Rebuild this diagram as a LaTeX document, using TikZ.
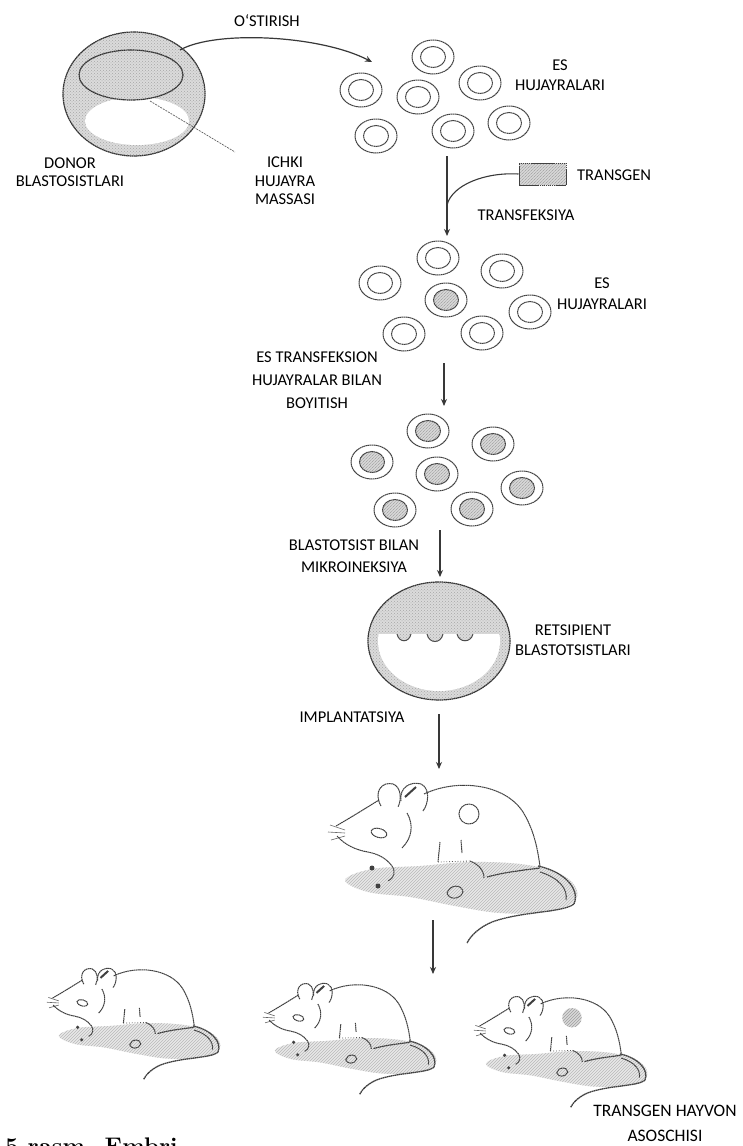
\documentclass[tikz,border=0pt]{standalone}
\usepackage{fontspec}
\newfontfamily\labfont{Carlito}
\usetikzlibrary{arrows.meta,patterns}

\tikzset{
  ink/.style={draw=black!75, line width=1pt, dash pattern=on 1.6pt off 0.45pt},
  rim/.style={draw=black!80, line width=1.2pt, dash pattern=on 1.6pt off 0.45pt},
  texture/.style={preaction={fill=gray!28}, pattern=crosshatch dots, pattern color=gray!70},
  hatchfill/.style={preaction={fill=gray!30}, pattern=north east lines, pattern color=gray!75},
  groundfill/.style={preaction={fill=gray!18}, pattern=north east lines, pattern color=gray!55},
  flow/.style={draw=black!78, line width=1.2pt, -{Stealth[length=7pt,width=6pt]}},
  leader/.style={draw=black!60, line width=0.7pt, dash pattern=on 2pt off 1pt},
  lbl/.style={font=\labfont\fontsize{16.5}{#1}\selectfont, text=black,
              inner sep=0pt, align=center},
  lbl/.default=18,
  escell/.pic={
    \draw[ink] (0,0) ellipse [x radius=21pt, y radius=17pt];
    \draw[ink] (0,0) ellipse [x radius=12.5pt, y radius=10.5pt];},
  escellfull/.pic={
    \draw[ink] (0,0) ellipse [x radius=21pt, y radius=17pt];
    \draw[ink, hatchfill] (0,0) ellipse [x radius=12.5pt, y radius=10.5pt];},
}

% a sitting mouse; #1 = style of the back spot, #2 = its radius
\newcommand\drawmouse[2]{%
  % ground shadow
  \path[groundfill] plot[smooth cycle, tension=0.6] coordinates
    {(345,880) (372,869) (420,866) (470,862) (520,864) (556,872) (575,886)
     (574,902) (545,912) (500,913) (455,906) (410,897) (368,892)};
  % tail
  \draw[ink, line width=1.3pt] (538,866) .. controls (566,872) and (580,890) .. (574,904)
     .. controls (562,913) and (522,911) .. (492,922)
     .. controls (480,927) and (471,935) .. (467,943);
  \draw[ink] (540,872) .. controls (560,878) and (568,890) .. (566,900);
  % head and back
  \draw[ink] (336,826) .. controls (350,818) and (366,808) .. (379,800);
  \draw[ink] (424,794) .. controls (458,778) and (505,784) .. (523,812)
     .. controls (534,830) and (538,850) .. (540,867);
  % ears
  \draw[ink] (381,806) .. controls (373,792) and (382,781) .. (393,784)
     .. controls (401,787) and (402,799) .. (398,807);
  \draw[ink] (401,801) .. controls (399,787) and (411,781) .. (421,784)
     .. controls (430,788) and (429,803) .. (423,811);
  \draw[black!75, line width=2pt] (405,797) -- (416,787);
  % eye
  \draw[ink, rotate around={-15:(379,833)}] (379,833) ellipse [x radius=8pt, y radius=4.5pt];
  % whiskers
  \draw[black!60, line width=0.6pt] (330,825) -- (345,830) (328,832) -- (345,833) (331,840) -- (345,836);
  % snout, mouth and front leg
  \draw[ink] (337,836) .. controls (345,845) and (356,850) .. (368,852)
     .. controls (378,854) and (386,858) .. (392,866)
     .. controls (396,872) and (394,878) .. (388,881);
  \draw[ink] (407,813) .. controls (414,825) and (412,838) .. (402,848);
  \fill[black!75] (372,868) circle (2.5pt);
  \fill[black!75] (378,886) circle (2.5pt);
  % chest, belly and hind leg
  \draw[ink] (440,842) -- (438,862);
  \draw[ink] (461,840) -- (462,853);
  \draw[black!65, line width=0.8pt, dotted] (438,862) -- (470,861);
  \draw[ink] (470,861) .. controls (478,864) and (484,870) .. (484,878);
  \draw[ink, line width=1.2pt] (487,877) .. controls (505,872) and (525,870) .. (540,868);
  \draw[ink] (447,893) .. controls (450,884) and (462,884) .. (463,892)
     .. controls (460,900) and (449,900) .. (447,893);
  % spot on the back
  \path[#1] (469,814) circle (#2);
}

\begin{document}
\begin{tikzpicture}[x=1pt, y=-1pt]
\useasboundingbox (0,0) rectangle (742,1146);
\fill[white] (0,0) rectangle (742,1146);

% ---------- donor blastocyst ----------
\path[texture] (134,94) ellipse [x radius=71pt, y radius=62pt];
\draw[rim] (134,94) ellipse [x radius=71pt, y radius=62pt];
\fill[white] (137,121) ellipse [x radius=52pt, y radius=24pt];
\path[texture] (131,75) ellipse [x radius=52pt, y radius=25pt];
\draw[rim] (131,75) ellipse [x radius=52pt, y radius=25pt];
\coordinate (icmfoot) at (150,101);
\coordinate (leaderend) at (235,152);
\draw[leader] (icmfoot) -- (leaderend);

\node[lbl] (donor) at (70,172) {DONOR\\BLASTOSISTLARI};
\node[lbl=18.5] (ichki) at (285,181) {ICHKI\\HUJAYRA\\MASSASI};
\node[lbl] (ostirish) at (267,21) {O‘STIRISH};

\coordinate (donortop) at (180,50);
\coordinate (esin) at (372,62);
\draw[flow] (donortop) .. controls (215,30) and (320,35) .. (esin);

% ---------- ES cells ----------
\foreach \p in {(433,57),(361,90),(418,97),(480,83),(376,136),(453,131),(509,123)}
  \pic at \p {escell};
\node[lbl=20] (es1) at (560,75) {ES\\HUJAYRALARI};

\coordinate (a1s) at (447,156);
\coordinate (a1e) at (447,236);
\coordinate (a1j) at (447,205);
\draw[flow] (a1s) -- (a1e);

\node[draw=black!75, line width=1pt, dash pattern=on 1.6pt off 0.45pt, hatchfill,
      minimum width=47pt, minimum height=22pt, inner sep=0pt] (tgbox) at (542.5,174) {};
\node[lbl, anchor=west] (transgen) at (577,175) {TRANSGEN};
\draw[draw=black!78, line width=1.1pt] (tgbox.west) .. controls (485,172) and (452,185) .. (a1j);
\node[lbl] (transfeksiya) at (526,215) {TRANSFEKSIYA};

% ---------- transfected cells ----------
\foreach \p in {(438,258),(380,283),(502,271),(530,312),(404,334),(482,333)}
  \pic at \p {escell};
\pic at (446,300) {escellfull};
\node[lbl=21] (es2) at (602,293.5) {ES\\HUJAYRALARI};

\node[lbl=23] (boyitish) at (317,380) {ES TRANSFEKSION\\HUJAYRALAR BILAN\\BOYITISH};
\coordinate (a2s) at (444,363);
\coordinate (a2e) at (444,406);
\draw[flow] (a2s) -- (a2e);

% ---------- enriched cells ----------
\foreach \p in {(428,431),(493,444),(372,462),(437,474),(522,488),(395,510),(472,509)}
  \pic at \p {escellfull};

\node[lbl=22] (mikro) at (354,556) {BLASTOTSIST BILAN\\MIKROINEKSIYA};
\coordinate (a3s) at (440,530);
\coordinate (a3e) at (440,577);
\draw[flow] (a3s) -- (a3e);

% ---------- recipient blastocyst ----------
\path[texture] (439,641) ellipse [x radius=71pt, y radius=59pt];
\begin{scope}
  \clip (439,641) ellipse [x radius=61pt, y radius=50pt];
  \fill[white] (370,634) -- (397,634) .. controls (399,643) and (409,643) .. (411,634)
     -- (427,634) .. controls (429,644) and (441,644) .. (443,634)
     -- (457,634) .. controls (459,643) and (471,643) .. (473,634)
     -- (515,634) -- (515,700) -- (370,700) -- cycle;
  \draw[black!70, line width=1pt] (397,634) .. controls (399,643) and (409,643) .. (411,634)
     (427,634) .. controls (429,644) and (441,644) .. (443,634)
     (457,634) .. controls (459,643) and (471,643) .. (473,634);
\end{scope}
\draw[rim] (439,641) ellipse [x radius=71pt, y radius=59pt];
\node[lbl=20] (retsipient) at (573,640) {RETSIPIENT\\BLASTOTSISTLARI};

\node[lbl] (implant) at (352,717) {IMPLANTATSIYA};
\coordinate (a4s) at (439,714);
\coordinate (a4e) at (439,769);
\draw[flow] (a4s) -- (a4e);

% ---------- chimeric mouse ----------
\begin{scope}
  \drawmouse{ink, fill=white}{10pt}
\end{scope}
\coordinate (a5s) at (433,920);
\coordinate (a5e) at (433,974);
\draw[flow] (a5s) -- (a5e);

% ---------- offspring ----------
\begin{scope}[shift={(-181,424)}, scale=0.695]
  \drawmouse{draw=none}{1pt}
\end{scope}
\begin{scope}[shift={(35,439)}, scale=0.695]
  \drawmouse{draw=none}{1pt}
\end{scope}
\begin{scope}[shift={(246,452)}, scale=0.695]
  \drawmouse{hatchfill}{14pt}
\end{scope}
\node[font=\labfont\fontsize{17.5}{25}\selectfont, text=black, inner sep=0pt,
      align=center] (hayvon) at (665,1123.5) {TRANSGEN HAYVON\\ASOSCHISI};

% figure caption, running off the lower edge
\node[anchor=base west, font=\fontsize{24}{28}\selectfont\bfseries, inner sep=0pt]
  (caption) at (5,1154) {5-rasm. Embri};
\end{tikzpicture}
\end{document}
